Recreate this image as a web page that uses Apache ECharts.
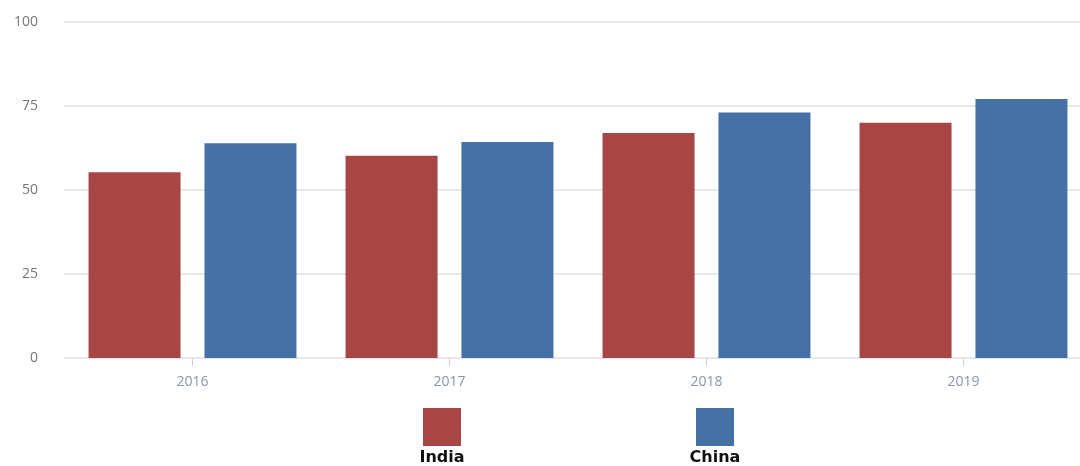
<!DOCTYPE html>
<html>
<head>
<meta charset="utf-8">
<script src="https://cdn.jsdelivr.net/npm/echarts@6/dist/echarts.min.js"></script>
<style>
html,body{margin:0;padding:0;background:#fff;}
#c{width:1080px;height:466px;}
</style>
</head>
<body>
<div id="c"></div>
<script>
const categories = ['2016', '2017', '2018', '2019'];
const indiaValues = [55.3, 60.2, 67.0, 70.0];
const chinaValues = [63.9, 64.3, 73.1, 77.1];
const yTicks = [0, 25, 50, 75, 100];
const seriesNames = ['India', 'China'];
const colors = ['#A84645', '#4671A5'];

const chart = echarts.init(document.getElementById('c'), null, {renderer: 'canvas'});
chart.setOption({
  animation: false,
  backgroundColor: '#fff',
  grid: {left: 64, width: 1028, top: 22, bottom: 108, containLabel: false, outerBoundsMode: 'none'},
  xAxis: {
    type: 'category',
    data: categories,
    axisLine: {show: true, lineStyle: {color: '#e3e7ec', width: 1}},
    axisTick: {show: true, alignWithLabel: true, length: 8, lineStyle: {color: '#c8d0d8'}},
    axisLabel: {color: '#8796a8', fontSize: 14, fontFamily: 'Open Sans', margin: 17}
  },
  yAxis: {
    type: 'value',
    min: yTicks[0],
    max: yTicks[yTicks.length - 1],
    interval: 25,
    axisLine: {show: false},
    axisTick: {show: false},
    splitLine: {lineStyle: {color: '#e0e0e0', width: 1.5}},
    axisLabel: {color: '#777', fontSize: 14, fontFamily: 'Open Sans', margin: 26}
  },
  series: [
    {name: seriesNames[0], type: 'bar', data: indiaValues, barWidth: 92, barGap: '26%', itemStyle: {color: colors[0]}},
    {name: seriesNames[1], type: 'bar', data: chinaValues, barWidth: 92, barGap: '26%', itemStyle: {color: colors[1]}}
  ],
  graphic: [
    {type: 'rect', shape: {x: 423, y: 408, width: 38, height: 38}, style: {fill: colors[0]}},
    {type: 'text', x: 442, y: 458, style: {text: seriesNames[0], fill: '#111', font: 'bold 16px "DejaVu Sans", sans-serif', textAlign: 'center', textVerticalAlign: 'middle'}},
    {type: 'rect', shape: {x: 696, y: 408, width: 38, height: 38}, style: {fill: colors[1]}},
    {type: 'text', x: 715, y: 458, style: {text: seriesNames[1], fill: '#111', font: 'bold 16px "DejaVu Sans", sans-serif', textAlign: 'center', textVerticalAlign: 'middle'}}
  ]
});
</script>
</body>
</html>
